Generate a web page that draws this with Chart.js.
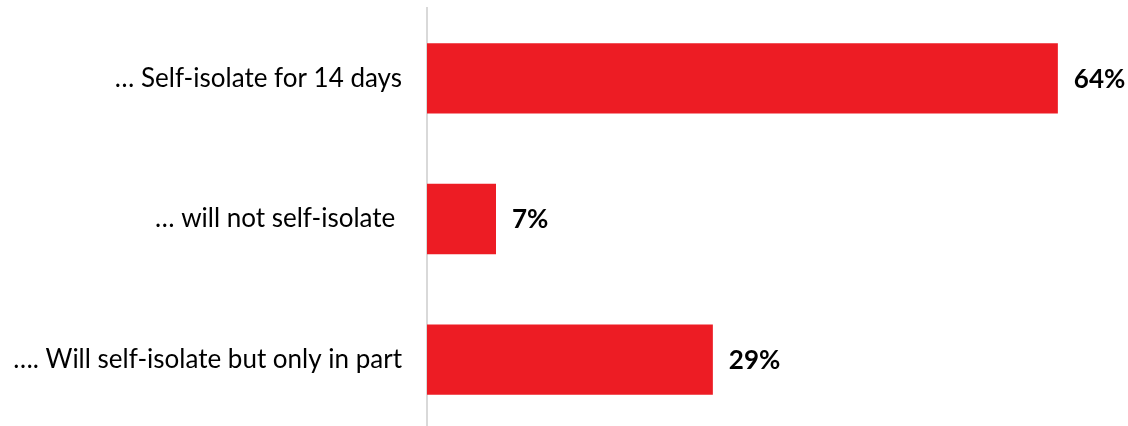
<!DOCTYPE html>
<html>
<head>
<meta charset="utf-8">
<script src="https://cdn.jsdelivr.net/npm/chart.js@4.4.1/dist/chart.umd.min.js"></script>
<style>
  html, body { margin: 0; padding: 0; background: #ffffff; overflow: hidden; }
  #wrap { position: relative; width: 1128px; height: 430px; }
</style>
</head>
<body>
<div id="wrap"><canvas id="c"></canvas></div>
<script>
const categories = [
  "\u2026 Self-isolate for 14 days",
  "\u2026 will not self-isolate ",
  "\u2026. Will self-isolate but only in part"
];
const values = [64, 7, 29];
const valueLabels = ["64%", "7%", "29%"];

const barColor = "#ED1C24";

const valueLabelPlugin = {
  id: "valueLabels",
  afterDatasetsDraw(chart) {
    const ctx = chart.ctx;
    const meta = chart.getDatasetMeta(0);
    ctx.save();
    ctx.font = "bold 26px Lato";
    ctx.fillStyle = "#000000";
    ctx.textAlign = "left";
    ctx.textBaseline = "middle";
    meta.data.forEach((bar, i) => {
      ctx.fillText(valueLabels[i], bar.x + 16, bar.y + 1);
    });
    ctx.restore();
  }
};

new Chart(document.getElementById("c"), {
  type: "bar",
  data: {
    labels: categories,
    datasets: [{
      data: values,
      backgroundColor: barColor,
      borderWidth: 0,
      barPercentage: 1,
      categoryPercentage: 0.5
    }]
  },
  options: {
    indexAxis: "y",
    responsive: true,
    maintainAspectRatio: false,
    animation: false,
    layout: { padding: { top: 8, right: 11, bottom: 0, left: 0 } },
    plugins: {
      legend: { display: false },
      tooltip: { enabled: false },
      title: { display: false }
    },
    scales: {
      x: {
        display: false,
        min: 0,
        max: 70
      },
      y: {
        grid: { display: false, drawTicks: false },
        border: { display: true, color: "#d9d9d9", width: 2 },
        ticks: {
          color: "#000000",
          font: { family: "Lato", size: 26 },
          padding: 25
        },
        afterFit(scale) {
          scale.width = 427;
          scale.paddingTop = 0;
          scale.paddingBottom = 0;
        }
      }
    }
  },
  plugins: [valueLabelPlugin]
});
</script>
</body>
</html>
